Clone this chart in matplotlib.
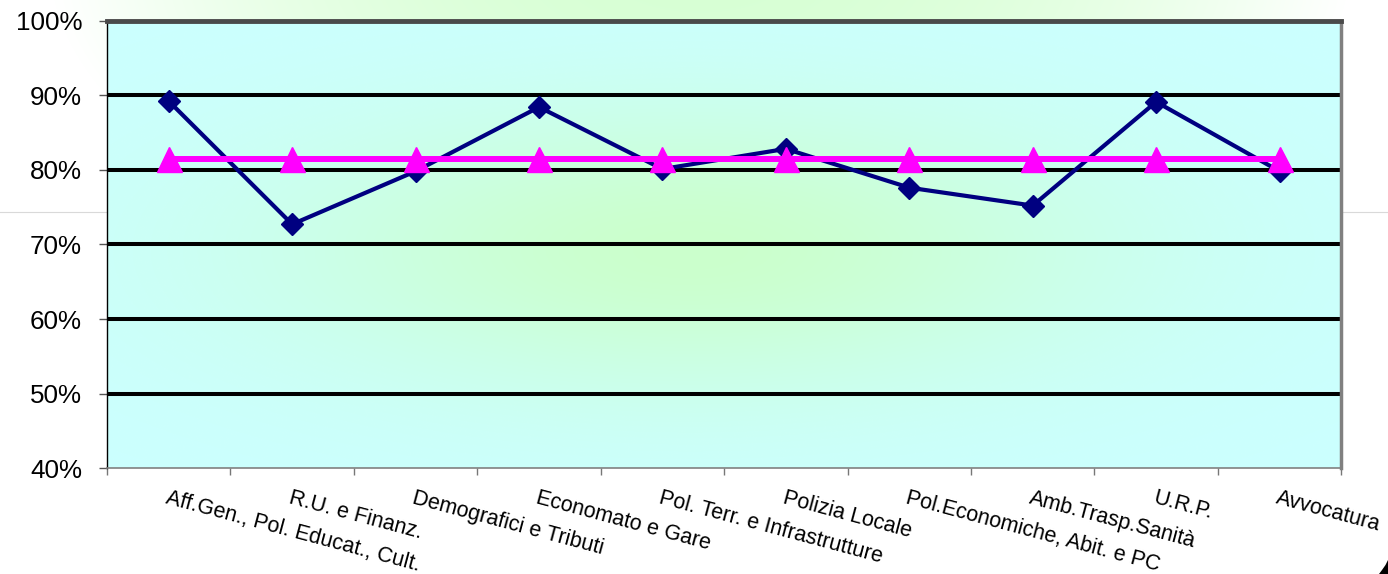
import numpy as np
import matplotlib.pyplot as plt
from matplotlib.ticker import PercentFormatter
from matplotlib.patches import Polygon

plt.rcParams['font.family'] = ['Liberation Sans', 'DejaVu Sans']

#%% dati
settori = ["Aff.Gen., Pol. Educat., Cult.", "R.U. e Finanz.", "Demografici e Tributi",
           "Economato e Gare", "Pol. Terr. e Infrastrutture", "Polizia Locale",
           "Pol.Economiche, Abit. e PC", "Amb.Trasp.Sanità", "U.R.P.", "Avvocatura"]
valori = [0.892, 0.727, 0.798, 0.884, 0.801, 0.828, 0.776, 0.752, 0.891, 0.798]
media = [0.815, 0.815, 0.815, 0.815, 0.815, 0.815, 0.815, 0.815, 0.815, 0.815]
yticks = [0.4, 0.5, 0.6, 0.7, 0.8, 0.9, 1.0]

W, H = 1388, 574
fig = plt.figure(figsize=(W / 100, H / 100), dpi=100)

#%% sfondo figura (bagliore verde in alto al centro)
bg = fig.add_axes([0, 0, 1, 1], zorder=-10)
yy, xx = np.mgrid[0:H, 0:W]
d2 = ((xx - 700) / 650.0) ** 2 + ((yy + 40) / 330.0) ** 2
t = np.clip(1 - d2, 0, 1)[..., None]
img = np.array([1.0, 1.0, 1.0]) * (1 - t) + np.array([215, 255, 212]) / 255 * t
bg.imshow(img, extent=(0, 1, 0, 1), aspect='auto', origin='upper')
bg.axhline(1 - 212 / H, color='#d9d9d9', lw=0.8)
corner = [(1388, 560), (1385.5, 565), (1382, 570), (1379, 574), (1388, 574)]
bg.add_patch(Polygon([(x / W, 1 - y / H) for x, y in corner], closed=True,
                     facecolor='black', edgecolor='none'))
bg.set_xlim(0, 1)
bg.set_ylim(0, 1)
bg.axis('off')

#%% area del grafico
L, R, T, B = 107, 1341.3, 20.5, 468.3
ax = fig.add_axes([L / W, 1 - B / H, (R - L) / W, (B - T) / H])
x = np.arange(len(settori))

# sfumatura ciano -> verde al centro
py, px = np.mgrid[T:B:1.0, L:R:1.0]
g2 = ((px - 690) / 430.0) ** 2 + ((py - 250) / 150.0) ** 2
g = np.exp(-1.1 * g2)[..., None]
area = np.array([204, 255, 255]) / 255 * (1 - g) + np.array([204, 255, 204]) / 255 * g
ax.imshow(area, extent=(-0.5, len(settori) - 0.5, 0.4, 1.0), aspect='auto',
          origin='upper', zorder=0)

for v in yticks[1:-1]:
    ax.axhline(v, color='black', lw=2.9, zorder=2)

ax.plot(x, valori, color='#000080', lw=3, marker='D', ms=11, zorder=4)
ax.plot(x, media, color='#FF00FF', lw=4.3, marker='^', ms=18, zorder=5)

ax.set_xlim(-0.5, len(settori) - 0.5)
ax.set_ylim(0.4, 1.0)
ax.set_yticks(yticks)
ax.yaxis.set_major_formatter(PercentFormatter(1.0, decimals=0))
ax.tick_params(axis='y', labelsize=18.7, length=6, width=1, pad=12, color='#555555')

ax.set_xticks(x)
ax.set_xticklabels(settori, fontsize=15.5)
ax.set_xticks(np.arange(-0.5, len(settori), 1), minor=True)
ax.tick_params(axis='x', which='major', length=0, pad=14)
ax.tick_params(axis='x', which='minor', length=5, width=1, color='#777777')
for lab in ax.get_xticklabels():
    lab.set_rotation(-15)
    lab.set_ha('left')
    lab.set_va('top')
    lab.set_rotation_mode('anchor')

ax.spines['left'].set_color('black')
ax.spines['left'].set_linewidth(1)
ax.spines['top'].set_color('#4a4a4a')
ax.spines['top'].set_linewidth(3.5)
ax.spines['right'].set_color('#808080')
ax.spines['right'].set_linewidth(2.5)
ax.spines['bottom'].set_color('#808080')
ax.spines['bottom'].set_linewidth(1.2)

fig.savefig('out.png', dpi=100)
